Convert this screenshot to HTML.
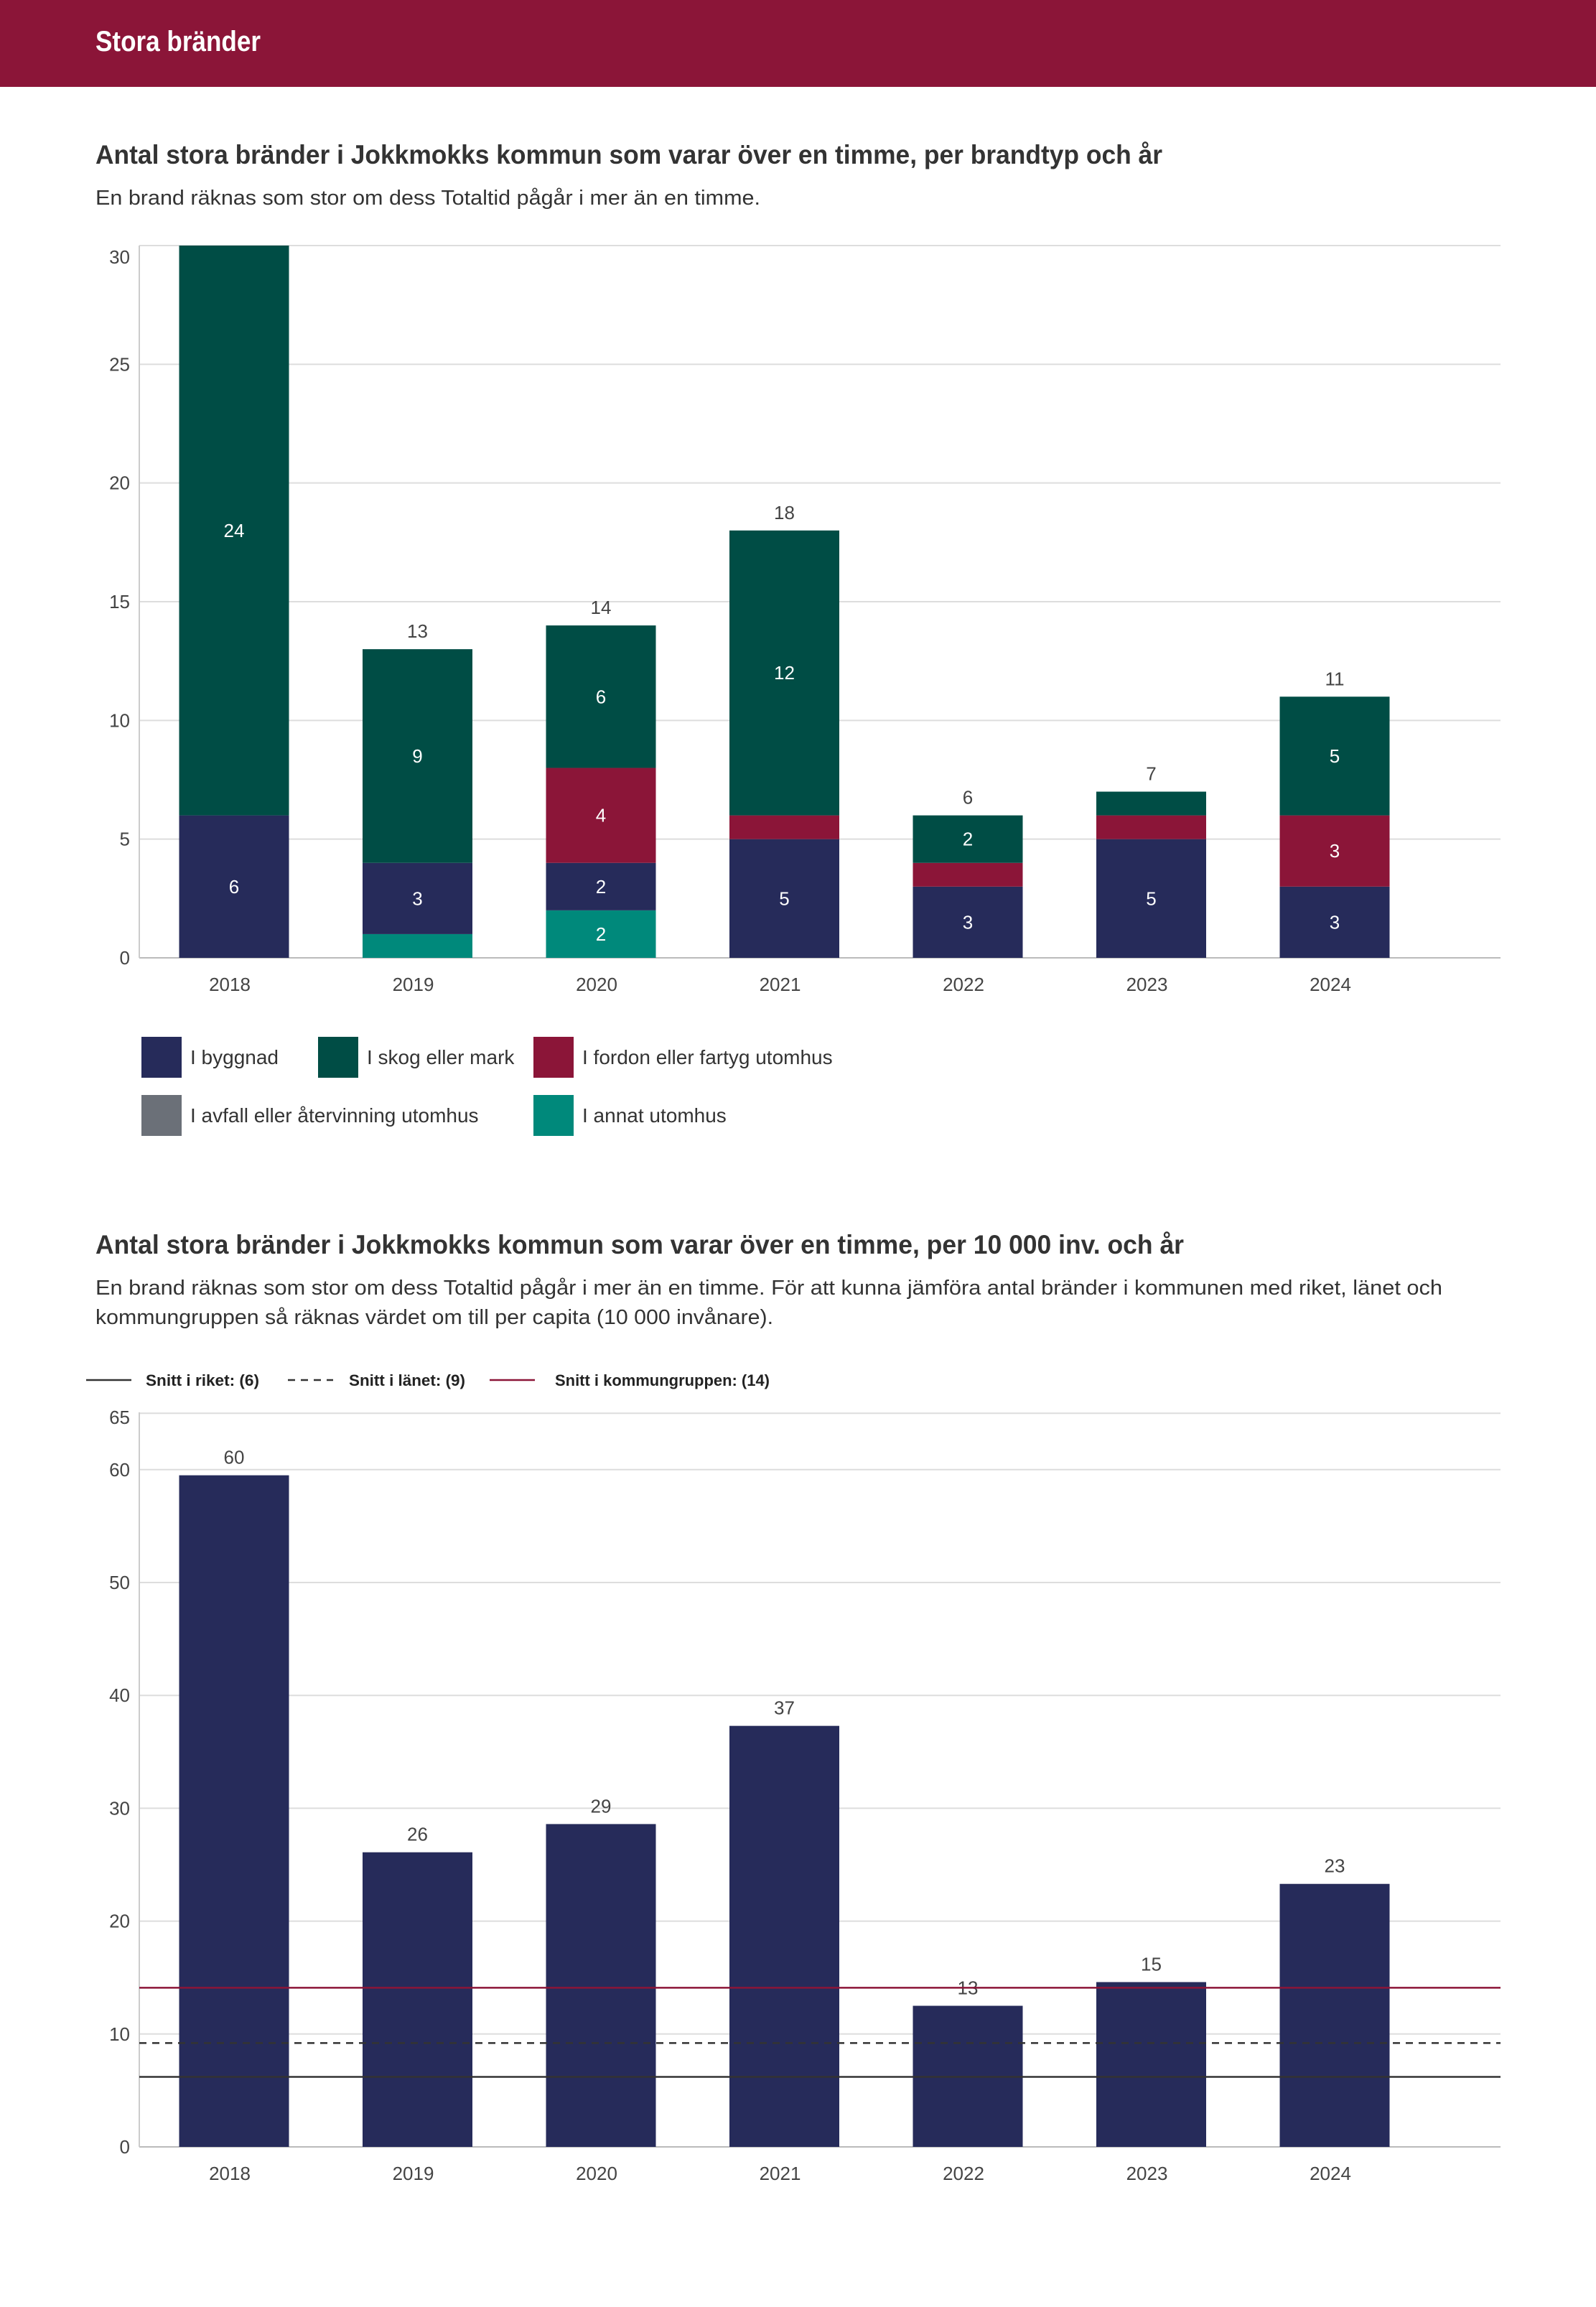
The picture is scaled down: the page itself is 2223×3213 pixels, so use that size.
<!DOCTYPE html>
<html><head><meta charset="utf-8"><style>
html,body{margin:0;padding:0;background:#fff;}
svg{display:block;font-family:"Liberation Sans",sans-serif;}
</style></head><body>
<svg id="root" width="2223" height="3213" viewBox="0 0 2223 3213" xmlns="http://www.w3.org/2000/svg">
<rect x="0" y="0" width="2223" height="121" fill="#8b1538"/>
<text x="133" y="71" font-size="40" font-weight="bold" fill="#fff" textLength="230" lengthAdjust="spacingAndGlyphs">Stora bränder</text>

<text x="133" y="228" font-size="37" font-weight="bold" fill="#333" textLength="1486" lengthAdjust="spacingAndGlyphs">Antal stora bränder i Jokkmokks kommun som varar över en timme, per brandtyp och år</text>
<text x="133" y="285" font-size="29" fill="#333" textLength="926" lengthAdjust="spacingAndGlyphs">En brand räknas som stor om dess Totaltid pågår i mer än en timme.</text>
<g id="c1"></g>
<g id="legend1"></g>

<text x="133" y="1746" font-size="37" font-weight="bold" fill="#333" textLength="1516" lengthAdjust="spacingAndGlyphs">Antal stora bränder i Jokkmokks kommun som varar över en timme, per 10 000 inv. och år</text>
<text x="133" y="1803" font-size="29" fill="#333" textLength="1876" lengthAdjust="spacingAndGlyphs">En brand räknas som stor om dess Totaltid pågår i mer än en timme. För att kunna jämföra antal bränder i kommunen med riket, länet och</text>
<text x="133" y="1844" font-size="29" fill="#333" textLength="944" lengthAdjust="spacingAndGlyphs">kommungruppen så räknas värdet om till per capita (10 000 invånare).</text>
<g id="c2"></g>
</svg>
<script>
const NS="http://www.w3.org/2000/svg";
// Chart 1 data
const years=["2018","2019","2020","2021","2022","2023","2024"];
const annat=[0,1,2,0,0,0,0];
const byggnad=[6,3,2,5,3,5,3];
const fordon=[0,0,4,1,1,1,3];
const skog=[24,9,6,12,2,1,5];
const avfall=[0,0,0,0,0,0,0];
const ticks1=[0,5,10,15,20,25,30];
// Chart 2 data
const perCapita=[59.5,26.1,28.6,37.3,12.5,14.6,23.3];
const perCapitaLabels=["60","26","29","37","13","15","23"];
const ticks2=[0,10,20,30,40,50,60,65];
const avgRiket=6.2, avgLanet=9.2, avgGrupp=14.1;

function el(tag,attrs,parent,text){const e=document.createElementNS(NS,tag);for(const k in attrs)e.setAttribute(k,attrs[k]);if(text!=null)e.textContent=text;parent.appendChild(e);return e;}
const X0=194,X1=2090,step=255.5,firstC=326,bw=153;
const xc=i=>firstC+i*step;

// chart 1
const c1=document.getElementById('c1');
const y1=v=>1334-(1334-342)*v/30;
ticks1.forEach(t=>{
  const g=el('line',{x1:X0,x2:X1,y1:y1(t),y2:y1(t),stroke:t===0?'#bbb':'#ddd','stroke-width':2},c1);
  
  
  const lb=el('text',{x:181,y:y1(t)+9+(t===30?16:0),'font-size':26,fill:'#444','text-anchor':'end'},c1,String(t));
  
  
});
el('line',{x1:X0,x2:X0,y1:342,y2:1334,stroke:'#ccc','stroke-width':2},c1);
const series=[["annat",annat,"#00897b"],["byggnad",byggnad,"#262b5a"],["fordon",fordon,"#8b1538"],["avfall",avfall,"#6b7078"],["skog",skog,"#004d45"]];
years.forEach((yr,i)=>{
  let base=0;
  series.forEach(([nm,arr,col])=>{
    const v=arr[i]; if(!v) return;
    const top=Math.min(base+v,30);
    const r=el('rect',{x:xc(i)-bw/2,y:y1(top),width:bw,height:y1(base)-y1(top),fill:col},c1);
    
    
    if(v>=2){
      const t=el('text',{x:xc(i),y:(y1(top)+y1(base))/2+9,'font-size':26,fill:'#fff','text-anchor':'middle'},c1,String(v));
      
      
    }
    base+=v;
  });
  if(base<30){
    const t=el('text',{x:xc(i),y:y1(base)-16,'font-size':26,fill:'#444','text-anchor':'middle'},c1,String(base));
    
    
  }
  const xl=el('text',{x:xc(i)-6,y:1380,'font-size':26,fill:'#444','text-anchor':'middle'},c1,yr);
  
  
});
// legend 1
const lg=document.getElementById('legend1');
const legItems=[["I byggnad","#262b5a",197,1444],["I skog eller mark","#004d45",443,1444],["I fordon eller fartyg utomhus","#8b1538",743,1444],["I avfall eller återvinning utomhus","#6b7078",197,1525],["I annat utomhus","#00897b",743,1525]];
legItems.forEach(([txt,col,x,y])=>{
  const g=el('g',{},lg);
  
  
  el('rect',{x:x,y:y,width:56,height:57,fill:col},g);
  el('text',{x:x+68,y:y+38,'font-size':28,fill:'#333'},g,txt);
});

// chart 2
const c2=document.getElementById('c2');
const y2=v=>2990-15.72*v;
ticks2.forEach(t=>{
  const g=el('line',{x1:X0,x2:X1,y1:y2(t),y2:y2(t),stroke:t===0?'#bbb':'#ddd','stroke-width':2},c2);
  
  
  const lb=el('text',{x:181,y:y2(t)+9+(t===65?6:0),'font-size':26,fill:'#444','text-anchor':'end'},c2,String(t));
  
  
});
el('line',{x1:X0,x2:X0,y1:1967,y2:2990,stroke:'#ccc','stroke-width':2},c2);
years.forEach((yr,i)=>{
  const v=perCapita[i];
  const r=el('rect',{x:xc(i)-bw/2,y:y2(v),width:bw,height:y2(0)-y2(v),fill:'#262b5a'},c2);
  
  
  const t=el('text',{x:xc(i),y:y2(v)-16,'font-size':26,fill:'#444','text-anchor':'middle'},c2,perCapitaLabels[i]);
  
  
  const xl=el('text',{x:xc(i)-6,y:3036,'font-size':26,fill:'#444','text-anchor':'middle'},c2,yr);
  
  
});
const refs=[["riket",avgRiket,"#333",null],["lanet",avgLanet,"#333","10,8"],["kommungrupp",avgGrupp,"#8b1538",null]];
refs.forEach(([nm,v,col,dash])=>{
  const a={x1:X0,x2:X1,y1:y2(v),y2:y2(v),stroke:col,'stroke-width':2.5};
  if(dash)a['stroke-dasharray']=dash;
  const l=el('line',a,c2);
  
  
});
const leg2=[["Snitt i riket: (6)","#333",null,120,203,158],["Snitt i länet: (9)","#333","10,8",401,486,162],["Snitt i kommungruppen: (14)","#8b1538",null,682,773,299]];
leg2.forEach(([txt,col,dash,lx,tx,tw])=>{
  const g=el('g',{},c2);
  
  
  const a={x1:lx,x2:lx+63,y1:1922,y2:1922,stroke:col,'stroke-width':2.5};
  if(dash)a['stroke-dasharray']=dash;
  el('line',a,g);
  el('text',{x:tx,y:1930,'font-size':22,'font-weight':'bold',fill:'#222',textLength:tw,lengthAdjust:'spacingAndGlyphs'},g,txt);
});
</script>
</body></html>
